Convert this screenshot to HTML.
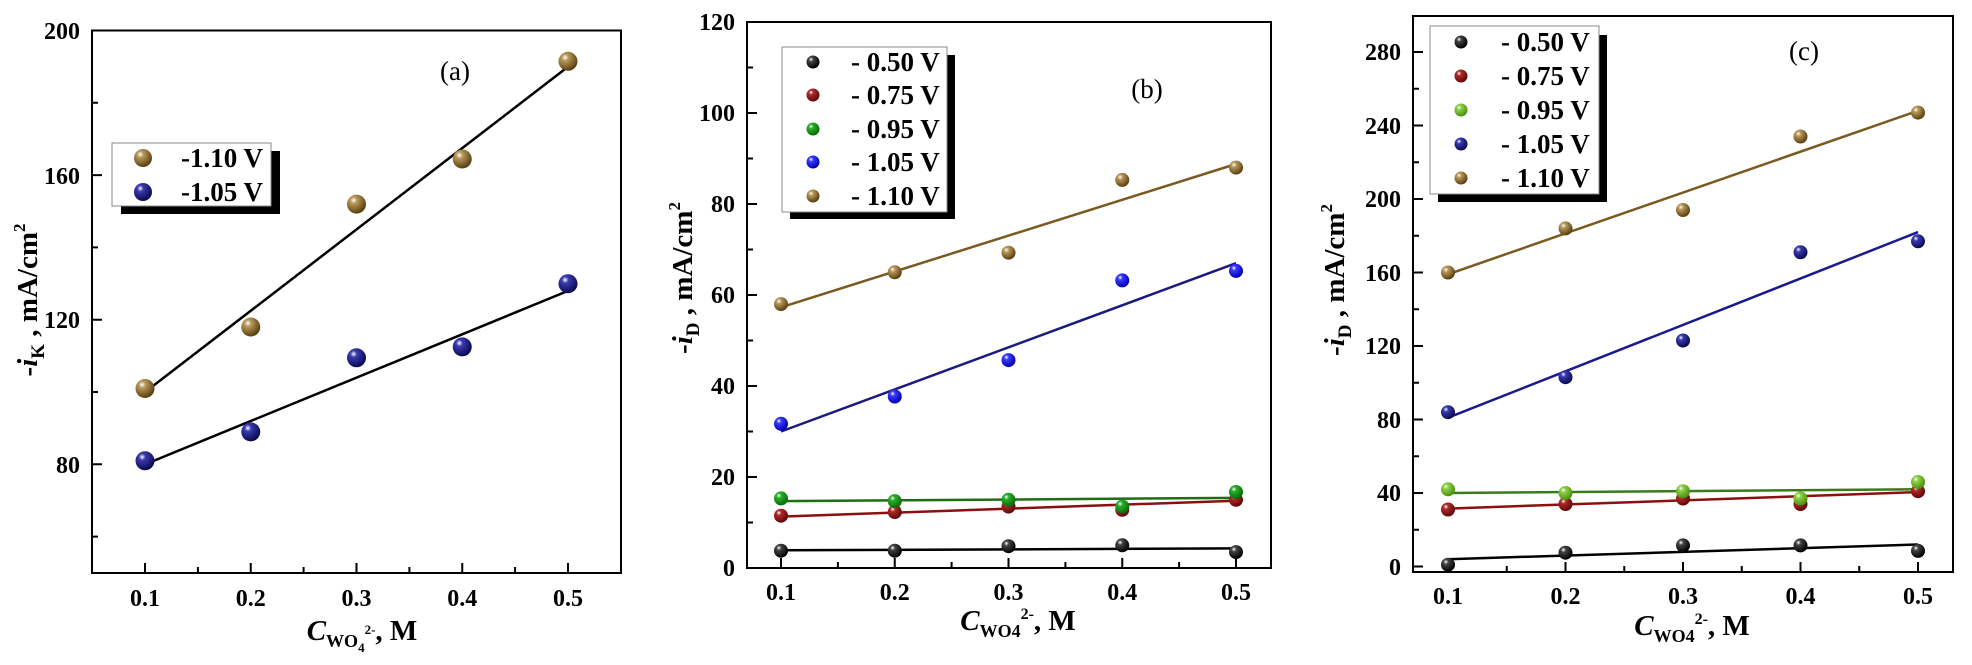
<!DOCTYPE html>
<html><head><meta charset="utf-8"><style>
html,body{margin:0;padding:0;background:#fff;}
svg{display:block;}
text{font-family:"Liberation Serif","Times New Roman",serif;}
.t{font-size:24px;font-weight:bold;}
.lg{font-size:27px;font-weight:bold;}
.ax{font-size:29px;font-weight:bold;}
</style></head><body>
<svg width="1972" height="665" viewBox="0 0 1972 665" xmlns="http://www.w3.org/2000/svg" font-family="Liberation Serif, serif">
<defs>
<radialGradient id="gBr" cx="35%" cy="30%" r="70%"><stop offset="0" stop-color="#fff"/><stop offset="0.25" stop-color="#b8995a"/><stop offset="1" stop-color="#5a3f10"/></radialGradient>
<radialGradient id="gNv" cx="35%" cy="30%" r="70%"><stop offset="0" stop-color="#fff"/><stop offset="0.25" stop-color="#3a3ab0"/><stop offset="1" stop-color="#0a0a50"/></radialGradient>
<radialGradient id="gBl" cx="35%" cy="30%" r="70%"><stop offset="0" stop-color="#fff"/><stop offset="0.25" stop-color="#3a3aff"/><stop offset="1" stop-color="#0000b0"/></radialGradient>
<radialGradient id="gBk" cx="35%" cy="30%" r="70%"><stop offset="0" stop-color="#fff"/><stop offset="0.25" stop-color="#444"/><stop offset="1" stop-color="#000"/></radialGradient>
<radialGradient id="gRd" cx="35%" cy="30%" r="70%"><stop offset="0" stop-color="#fff"/><stop offset="0.25" stop-color="#b02a2a"/><stop offset="1" stop-color="#600808"/></radialGradient>
<radialGradient id="gGn" cx="35%" cy="30%" r="70%"><stop offset="0" stop-color="#fff"/><stop offset="0.25" stop-color="#2ab02a"/><stop offset="1" stop-color="#0a6a0a"/></radialGradient>
<radialGradient id="gLg" cx="35%" cy="30%" r="70%"><stop offset="0" stop-color="#fff"/><stop offset="0.25" stop-color="#8fd04a"/><stop offset="1" stop-color="#4a9010"/></radialGradient>
</defs>

<!-- ===== Panel (a) ===== -->
<g stroke="#000" stroke-width="2" fill="none">
<rect x="92" y="30.5" width="529" height="542.5"/>
<path d="M92 30.5h10M92 175.1h10M92 319.7h10M92 464.3h10M92 102.8h6M92 247.4h6M92 392h6M92 536.6h6"/>
<path d="M145 573v-10M250.75 573v-10M356.5 573v-10M462.25 573v-10M568 573v-10M197.9 573v-6M303.6 573v-6M409.4 573v-6M515.1 573v-6"/>
</g>
<g class="t" text-anchor="end">
<text x="80" y="39">200</text><text x="80" y="184">160</text><text x="80" y="328">120</text><text x="80" y="473">80</text>
</g>
<g class="t" text-anchor="middle">
<text x="145" y="606">0.1</text><text x="250.75" y="606">0.2</text><text x="356.5" y="606">0.3</text><text x="462.25" y="606">0.4</text><text x="568" y="606">0.5</text>
</g>
<text class="ax" x="362" y="640" text-anchor="middle"><tspan font-style="italic">C</tspan><tspan font-size="18" dy="7">WO</tspan><tspan font-size="13" dy="5">4</tspan><tspan font-size="13" dy="-18">2-</tspan><tspan dy="6">, M</tspan></text>
<text class="ax" transform="translate(37,300) rotate(-90)" text-anchor="middle">-<tspan font-style="italic">i</tspan><tspan font-size="19" dy="7">K</tspan><tspan dy="-7"> , mA/cm</tspan><tspan font-size="17" dy="-12">2</tspan></text>
<text x="455" y="80" font-size="27" text-anchor="middle">(a)</text>
<g stroke="#000" stroke-width="2.5">
<line x1="145" y1="392.1" x2="568" y2="66.8"/>
<line x1="145" y1="464.4" x2="568" y2="290.9"/>
</g>
<g fill="url(#gBr)">
<circle cx="145" cy="388.5" r="9.5"/><circle cx="250.75" cy="327" r="9.5"/><circle cx="356.5" cy="204.1" r="9.5"/><circle cx="462.25" cy="159" r="9.5"/><circle cx="568" cy="61.3" r="9.5"/>
</g>
<g fill="url(#gNv)">
<circle cx="145" cy="460.8" r="9.5"/><circle cx="250.75" cy="431.9" r="9.5"/><circle cx="356.5" cy="357.8" r="9.5"/><circle cx="462.25" cy="346.9" r="9.5"/><circle cx="568" cy="283.7" r="9.5"/>
</g>
<rect x="121" y="151" width="159" height="63" fill="#000"/>
<rect x="112" y="143" width="159" height="63" fill="#fff" stroke="#888" stroke-width="1"/>
<circle cx="143" cy="158" r="9" fill="url(#gBr)"/><circle cx="143" cy="192" r="9" fill="url(#gNv)"/>
<text class="lg" x="181" y="167">-1.10 V</text><text class="lg" x="181" y="201">-1.05 V</text>

<!-- ===== Panel (b) ===== -->
<g stroke="#000" stroke-width="2" fill="none">
<rect x="747" y="22" width="524" height="546"/>
<path d="M747 568h10M747 477h10M747 386h10M747 295h10M747 204h10M747 113h10M747 22h10M747 522.5h6M747 431.5h6M747 340.5h6M747 249.5h6M747 158.5h6M747 67.5h6"/>
<path d="M781 568v-10M894.75 568v-10M1008.5 568v-10M1122.25 568v-10M1236 568v-10M837.9 568v-6M951.6 568v-6M1065.4 568v-6M1179.1 568v-6"/>
</g>
<g class="t" text-anchor="end">
<text x="735" y="576">0</text><text x="735" y="485">20</text><text x="735" y="394">40</text><text x="735" y="303">60</text><text x="735" y="212">80</text><text x="735" y="121">100</text><text x="735" y="30">120</text>
</g>
<g class="t" text-anchor="middle">
<text x="781" y="600">0.1</text><text x="894.75" y="600">0.2</text><text x="1008.5" y="600">0.3</text><text x="1122.25" y="600">0.4</text><text x="1236" y="600">0.5</text>
</g>
<text class="ax" x="1018" y="630" text-anchor="middle"><tspan font-style="italic">C</tspan><tspan font-size="18" dy="7">WO4</tspan><tspan font-size="16" dy="-18">2-</tspan><tspan dy="11">, M</tspan></text>
<text class="ax" transform="translate(692,278) rotate(-90)" text-anchor="middle">-<tspan font-style="italic">i</tspan><tspan font-size="19" dy="7">D</tspan><tspan dy="-7"> , mA/cm</tspan><tspan font-size="17" dy="-12">2</tspan></text>
<text x="1147" y="98" font-size="27" text-anchor="middle">(b)</text>
<g stroke-width="2.5">
<line x1="781" y1="550.3" x2="1236" y2="548.4" stroke="#000"/>
<line x1="781" y1="516.6" x2="1236" y2="500.7" stroke="#8b1010"/>
<line x1="781" y1="501.1" x2="1236" y2="497.9" stroke="#1e6e14"/>
<line x1="781" y1="431.5" x2="1236" y2="263.2" stroke="#1a1a80"/>
<line x1="781" y1="307.3" x2="1236" y2="164" stroke="#7a5a20"/>
</g>
<g fill="url(#gBk)"><circle cx="781" cy="550.7" r="7"/><circle cx="894.75" cy="550.7" r="7"/><circle cx="1008.5" cy="546.2" r="7"/><circle cx="1122.25" cy="545.3" r="7"/><circle cx="1236" cy="552.1" r="7"/></g>
<g fill="url(#gRd)"><circle cx="781" cy="515.7" r="7"/><circle cx="894.75" cy="512" r="7"/><circle cx="1008.5" cy="506.6" r="7"/><circle cx="1122.25" cy="509.8" r="7"/><circle cx="1236" cy="499.8" r="7"/></g>
<g fill="url(#gGn)"><circle cx="781" cy="498.4" r="7"/><circle cx="894.75" cy="501.1" r="7"/><circle cx="1008.5" cy="499.8" r="7"/><circle cx="1122.25" cy="506.6" r="7"/><circle cx="1236" cy="492" r="7"/></g>
<g fill="url(#gBl)"><circle cx="781" cy="423.8" r="7"/><circle cx="894.75" cy="396.5" r="7"/><circle cx="1008.5" cy="360.1" r="7"/><circle cx="1122.25" cy="280.4" r="7"/><circle cx="1236" cy="270.9" r="7"/></g>
<g fill="url(#gBr)"><circle cx="781" cy="304.1" r="7"/><circle cx="894.75" cy="272.3" r="7"/><circle cx="1008.5" cy="252.7" r="7"/><circle cx="1122.25" cy="179.9" r="7"/><circle cx="1236" cy="167.6" r="7"/></g>
<rect x="790" y="55" width="165" height="164" fill="#000"/>
<rect x="782" y="47" width="165" height="165" fill="#fff" stroke="#888" stroke-width="1"/>
<circle cx="813" cy="62" r="6.5" fill="url(#gBk)"/><circle cx="813" cy="95" r="6.5" fill="url(#gRd)"/><circle cx="813" cy="129" r="6.5" fill="url(#gGn)"/><circle cx="813" cy="162" r="6.5" fill="url(#gBl)"/><circle cx="813" cy="196" r="6.5" fill="url(#gBr)"/>
<g class="lg"><text x="851" y="71">- 0.50 V</text><text x="851" y="104">- 0.75 V</text><text x="851" y="138">- 0.95 V</text><text x="851" y="171">- 1.05 V</text><text x="851" y="205">- 1.10 V</text></g>

<!-- ===== Panel (c) ===== -->
<g stroke="#000" stroke-width="2" fill="none">
<rect x="1413" y="16" width="540" height="556"/>
<path d="M1413 566.5h10M1413 493h10M1413 419.5h10M1413 346h10M1413 272.5h10M1413 199h10M1413 125.5h10M1413 52h10M1413 529.75h6M1413 456.25h6M1413 382.75h6M1413 309.25h6M1413 235.75h6M1413 162.25h6M1413 88.75h6"/>
<path d="M1448 572v-10M1565.5 572v-10M1683 572v-10M1800.5 572v-10M1918 572v-10M1506.75 572v-6M1624.25 572v-6M1741.75 572v-6M1859.25 572v-6"/>
</g>
<g class="t" text-anchor="end">
<text x="1401" y="575">0</text><text x="1401" y="501">40</text><text x="1401" y="428">80</text><text x="1401" y="354">120</text><text x="1401" y="281">160</text><text x="1401" y="207">200</text><text x="1401" y="134">240</text><text x="1401" y="60">280</text>
</g>
<g class="t" text-anchor="middle">
<text x="1448" y="604">0.1</text><text x="1565.5" y="604">0.2</text><text x="1683" y="604">0.3</text><text x="1800.5" y="604">0.4</text><text x="1918" y="604">0.5</text>
</g>
<text class="ax" x="1692" y="635" text-anchor="middle"><tspan font-style="italic">C</tspan><tspan font-size="18" dy="7">WO4</tspan><tspan font-size="16" dy="-18">2-</tspan><tspan dy="11">, M</tspan></text>
<text class="ax" transform="translate(1344,280) rotate(-90)" text-anchor="middle">-<tspan font-style="italic">i</tspan><tspan font-size="19" dy="7">D</tspan><tspan dy="-7"> , mA/cm</tspan><tspan font-size="17" dy="-12">2</tspan></text>
<text x="1804" y="60" font-size="27" text-anchor="middle">(c)</text>
<g stroke-width="2.5">
<line x1="1448" y1="559.2" x2="1918" y2="544.5" stroke="#000"/>
<line x1="1448" y1="508.6" x2="1918" y2="492.1" stroke="#8b1010"/>
<line x1="1448" y1="493" x2="1918" y2="489.3" stroke="#3a7a18"/>
<line x1="1448" y1="417.7" x2="1918" y2="232.1" stroke="#1a1a90"/>
<line x1="1448" y1="274.3" x2="1918" y2="110.8" stroke="#7a5a20"/>
</g>
<g fill="url(#gBk)"><circle cx="1448" cy="564.7" r="7"/><circle cx="1565.5" cy="552.7" r="7"/><circle cx="1683" cy="545.4" r="7"/><circle cx="1800.5" cy="545.4" r="7"/><circle cx="1918" cy="550.9" r="7"/></g>
<g fill="url(#gRd)"><circle cx="1448" cy="509.5" r="7"/><circle cx="1565.5" cy="504" r="7"/><circle cx="1683" cy="498.5" r="7"/><circle cx="1800.5" cy="504" r="7"/><circle cx="1918" cy="491.2" r="7"/></g>
<g fill="url(#gLg)"><circle cx="1448" cy="489.3" r="7"/><circle cx="1565.5" cy="493" r="7"/><circle cx="1683" cy="491.2" r="7"/><circle cx="1800.5" cy="498.5" r="7"/><circle cx="1918" cy="482" r="7"/></g>
<g fill="url(#gNv)"><circle cx="1448" cy="412.2" r="7"/><circle cx="1565.5" cy="377.2" r="7"/><circle cx="1683" cy="340.5" r="7"/><circle cx="1800.5" cy="252.3" r="7"/><circle cx="1918" cy="241.3" r="7"/></g>
<g fill="url(#gBr)"><circle cx="1448" cy="272.5" r="7"/><circle cx="1565.5" cy="228.4" r="7"/><circle cx="1683" cy="210" r="7"/><circle cx="1800.5" cy="136.5" r="7"/><circle cx="1918" cy="112.6" r="7"/></g>
<rect x="1438" y="35" width="169" height="167" fill="#000"/>
<rect x="1430" y="26" width="169" height="168" fill="#fff" stroke="#888" stroke-width="1"/>
<circle cx="1461" cy="42" r="6.5" fill="url(#gBk)"/><circle cx="1461" cy="76" r="6.5" fill="url(#gRd)"/><circle cx="1461" cy="110" r="6.5" fill="url(#gLg)"/><circle cx="1461" cy="144" r="6.5" fill="url(#gNv)"/><circle cx="1461" cy="178" r="6.5" fill="url(#gBr)"/>
<g class="lg"><text x="1501" y="51">- 0.50 V</text><text x="1501" y="85">- 0.75 V</text><text x="1501" y="119">- 0.95 V</text><text x="1501" y="153">- 1.05 V</text><text x="1501" y="187">- 1.10 V</text></g>
</svg>
</body></html>
